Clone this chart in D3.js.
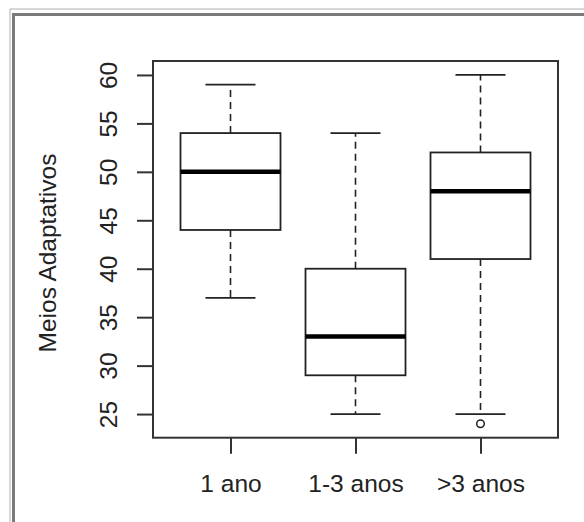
<!DOCTYPE html>
<html>
<head>
<meta charset="utf-8">
<script src="https://cdn.jsdelivr.net/npm/d3@7"></script>
<style>
  body { margin: 0; background: #fff; }
  svg { display: block; font-family: "Liberation Sans", Arial, sans-serif; }
</style>
</head>
<body>
<div id="chart"></div>
<script>
var W = 584, H = 522;

// data
var groups   = ["1 ano", "1-3 anos", ">3 anos"];
var mins     = [37, 25, 25];
var q1s      = [44, 29, 41];
var medians  = [50, 33, 48];
var q3s      = [54, 40, 52];
var maxs     = [59, 54, 60];
var outliers = [[], [], [24]];
var yTicks   = [25, 30, 35, 40, 45, 50, 55, 60];

var plot = {left: 153, right: 558, top: 61, bottom: 437.7};
var fontSize = "24.5px";

var svg = d3.select("#chart")
            .append("svg")
            .attr("width", W)
            .attr("height", H);

// outer frame (double line, top and left only)
svg.append("path")
   .attr("d", "M10,522 V9 H584")
   .attr("fill", "none")
   .attr("stroke", "#b0b0b0")
   .attr("stroke-width", 1);
svg.append("path")
   .attr("d", "M13.5,522 V14.5 H584")
   .attr("fill", "none")
   .attr("stroke", "#7a7a7a")
   .attr("stroke-width", 3);

var xScale = d3.scaleLinear()
               .domain([0.5 - 0.12, 3.5 + 0.12])
               .range([plot.left, plot.right]);

var yScale = d3.scaleLinear()
               .domain([22.56, 61.44])
               .range([plot.bottom, plot.top]);

var boxes = groups.map(function(g, i) {
  return {name: g, pos: i + 1, min: mins[i], q1: q1s[i], med: medians[i],
          q3: q3s[i], max: maxs[i], out: outliers[i]};
});

var halfBox = 0.4, halfCap = 0.2;
var ink = "#222";

var g = svg.selectAll("g.box")
           .data(boxes)
           .enter()
           .append("g")
           .attr("class", "box");

// whiskers
g.append("line")
 .attr("x1", d => xScale(d.pos)).attr("x2", d => xScale(d.pos))
 .attr("y1", d => yScale(d.q3)).attr("y2", d => yScale(d.max))
 .attr("stroke", ink).attr("stroke-width", 1.6).attr("stroke-dasharray", "7,5");
g.append("line")
 .attr("x1", d => xScale(d.pos)).attr("x2", d => xScale(d.pos))
 .attr("y1", d => yScale(d.q1)).attr("y2", d => yScale(d.min))
 .attr("stroke", ink).attr("stroke-width", 1.6).attr("stroke-dasharray", "7,5");

// caps
["max", "min"].forEach(function(k) {
  g.append("line")
   .attr("x1", d => xScale(d.pos - halfCap)).attr("x2", d => xScale(d.pos + halfCap))
   .attr("y1", d => yScale(d[k])).attr("y2", d => yScale(d[k]))
   .attr("stroke", ink).attr("stroke-width", 1.8);
});

// boxes
g.append("rect")
 .attr("x", d => xScale(d.pos - halfBox))
 .attr("y", d => yScale(d.q3))
 .attr("width", d => xScale(d.pos + halfBox) - xScale(d.pos - halfBox))
 .attr("height", d => yScale(d.q1) - yScale(d.q3))
 .attr("fill", "none")
 .attr("stroke", ink)
 .attr("stroke-width", 1.8);

// medians
g.append("line")
 .attr("x1", d => xScale(d.pos - halfBox)).attr("x2", d => xScale(d.pos + halfBox))
 .attr("y1", d => yScale(d.med)).attr("y2", d => yScale(d.med))
 .attr("stroke", "#000").attr("stroke-width", 4.5);

// outliers
g.selectAll("circle")
 .data(d => d.out.map(v => ({pos: d.pos, v: v})))
 .enter()
 .append("circle")
 .attr("cx", d => xScale(d.pos))
 .attr("cy", d => yScale(d.v))
 .attr("r", 3.8)
 .attr("fill", "none")
 .attr("stroke", ink)
 .attr("stroke-width", 1.5);

// plot frame
svg.append("rect")
   .attr("x", plot.left)
   .attr("y", plot.top)
   .attr("width", plot.right - plot.left)
   .attr("height", plot.bottom - plot.top)
   .attr("fill", "none")
   .attr("stroke", "#333")
   .attr("stroke-width", 2);

// y axis
var yAxis = d3.axisLeft(yScale)
              .tickValues(yTicks)
              .tickSize(16)
              .tickPadding(0)
              .tickFormat(d3.format("d"));

var ya = svg.append("g")
            .attr("class", "y axis")
            .attr("transform", "translate(" + plot.left + ",0)")
            .call(yAxis);
ya.select(".domain").remove();
ya.selectAll(".tick line").attr("stroke", "#333").attr("stroke-width", 2);
ya.selectAll(".tick text")
  .attr("x", null).attr("dy", null)
  .attr("transform", "translate(-36,0) rotate(-90)")
  .attr("text-anchor", "middle")
  .attr("fill", "#222")
  .style("font-size", fontSize)
  .style("font-family", "'Liberation Sans', Arial, sans-serif");

// x axis
var xAxis = d3.axisBottom(xScale)
              .tickValues([1, 2, 3])
              .tickSize(16)
              .tickPadding(0)
              .tickFormat((d, i) => groups[i]);

var xa = svg.append("g")
            .attr("class", "x axis")
            .attr("transform", "translate(0," + plot.bottom + ")")
            .call(xAxis);
xa.select(".domain").remove();
xa.selectAll(".tick line").attr("stroke", "#333").attr("stroke-width", 2);
xa.selectAll(".tick text")
  .attr("y", 54).attr("dy", null)
  .attr("fill", "#222")
  .style("font-size", fontSize)
  .style("font-family", "'Liberation Sans', Arial, sans-serif");

// y axis label
svg.append("text")
   .attr("transform", "translate(56,253) rotate(-90)")
   .attr("text-anchor", "middle")
   .attr("fill", "#222")
   .style("font-size", fontSize)
   .text("Meios Adaptativos");
</script>
</body>
</html>
